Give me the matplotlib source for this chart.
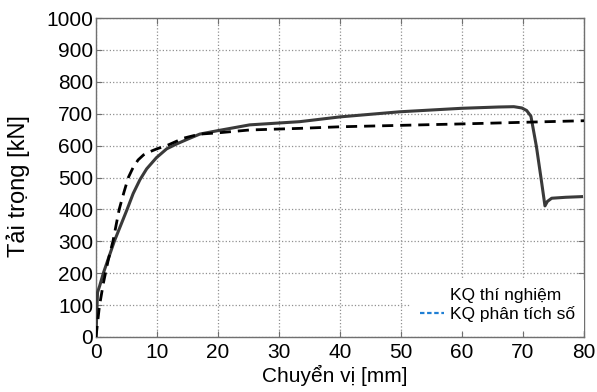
import matplotlib
matplotlib.use("Agg")
import matplotlib.pyplot as plt
from matplotlib.lines import Line2D

# Experimental curve (KQ thí nghiệm)
x_exp = [0, 0.1, 0.25, 0.6, 1.2, 3.0, 5.1, 6.1, 7.2, 8.3, 9.9, 11.6, 13.2, 15.0,
         17.0, 20.0, 25.2, 33.4, 40, 49.8, 60, 66, 68.5, 69.8, 70.6, 71.3, 72.2,
         73.0, 73.6, 74.0, 74.7, 77, 79.6]
y_exp = [0, 60, 140, 160, 200, 300, 400, 450, 493, 527, 562, 590, 605, 620,
         636, 647, 665, 675, 690, 706, 717, 721, 722, 718, 710, 692, 597,
         492, 411, 425, 435, 438, 440]

# Numerical analysis curve (KQ phân tích số)
x_num = [0, 0.55, 1.2, 2.0, 2.8, 3.8, 4.6, 5.3, 6.1, 6.9, 7.8, 8.85, 10.0, 11.6,
         14.3, 17.0, 20.0, 25.2, 33.4, 40, 60, 70, 80]
y_num = [0, 95, 168, 241, 302, 400, 455, 500, 532, 555, 571, 581, 590, 600,
         623, 636, 640, 649, 654, 659, 668, 673, 678]

x_ticks = [0, 10, 20, 30, 40, 50, 60, 70, 80]
y_ticks = [0, 100, 200, 300, 400, 500, 600, 700, 800, 900, 1000]

labels = ["KQ thí nghiệm", "KQ phân tích số"]

plt.rcParams['font.family'] = ['Liberation Sans', 'DejaVu Sans']

fig = plt.figure(figsize=(5.97, 3.92), dpi=100)
ax = fig.add_axes([96/597, 1 - 337/392, 488/597, 319/392])

ax.plot(x_exp, y_exp, color='#3a3a3a', lw=2.2, solid_joinstyle='round', zorder=3)
ax.plot(x_num, y_num, color='black', lw=2.0, ls=(0, (4, 2.5)), zorder=3)

ax.set_xlim(0, 80)
ax.set_ylim(0, 1000)
ax.set_xticks(x_ticks)
ax.set_yticks(y_ticks)
ax.grid(True, ls=':', color='#909090', lw=0.9)
for s in ax.spines.values():
    s.set_color('#707070')
    s.set_linewidth(1.0)
ax.tick_params(direction='in', top=True, right=True, length=4, color='#707070',
               labelsize=15, labelcolor='black')
ax.tick_params(axis='x', pad=4)
ax.tick_params(axis='y', pad=2)

ax.set_xlabel("Chuyển vị [mm]", fontsize=15)
ax.set_ylabel("Tải trọng [kN]", fontsize=17)
ax.xaxis.set_label_coords(0.49, -0.088)
ax.yaxis.set_label_coords(-0.135, 0.473)

handles = [Line2D([], [], color='none'),
           Line2D([], [], color='#1f7fd4', ls=(0, (2, 1.2)), lw=1.6)]
leg = ax.legend(handles, labels, loc='lower right', bbox_to_anchor=(1.0, 0.02),
                fontsize=12.5, frameon=True,
                facecolor='white', edgecolor='none', framealpha=1, fancybox=False,
                borderaxespad=0, borderpad=0.5, handlelength=1.4, handletextpad=0.35,
                labelspacing=0.15)
leg.set_zorder(5)

fig.savefig("out.png", dpi=100)
